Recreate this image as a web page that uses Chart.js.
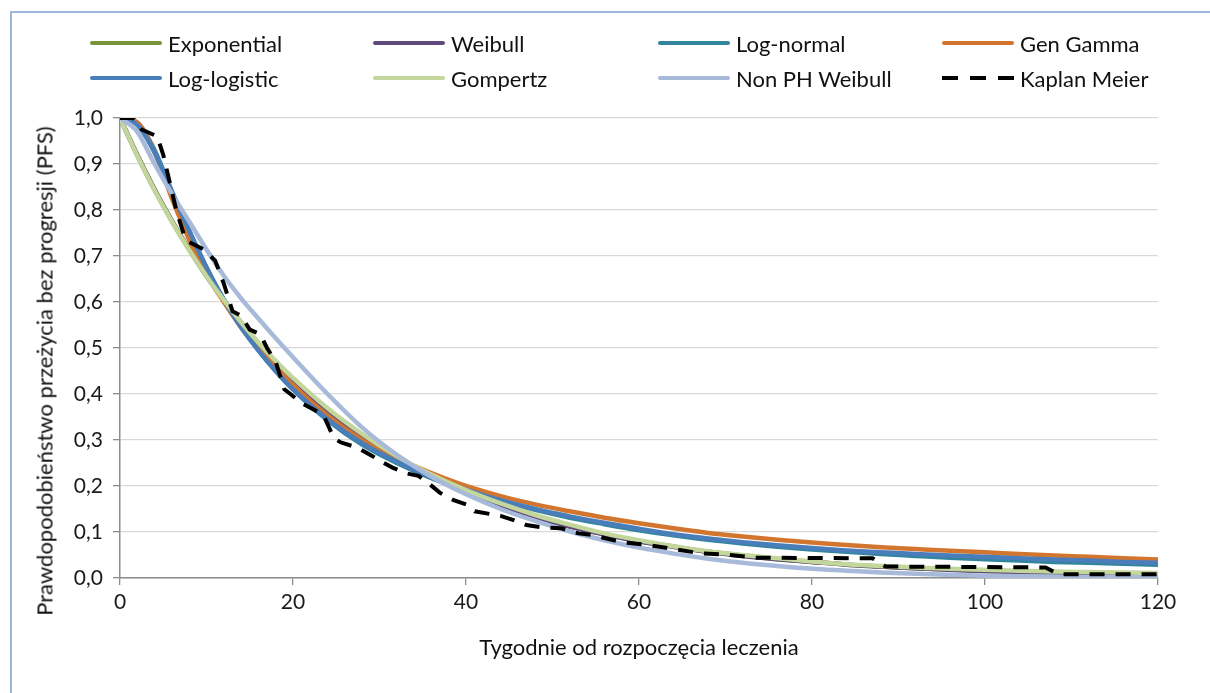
<!DOCTYPE html>
<html>
<head>
<meta charset="utf-8">
<script src="https://cdn.jsdelivr.net/npm/chart.js@4.4.0/dist/chart.umd.min.js"></script>
<style>
html,body{margin:0;padding:0;background:#fff;width:1210px;height:693px;overflow:hidden;font-family:Lato,"Open Sans",sans-serif;}
#frame{position:absolute;left:10px;top:11px;width:1300px;height:800px;border:2px solid #9CB8DE;box-sizing:border-box;}
#c{position:absolute;left:0;top:0;}
.item{position:absolute;display:flex;align-items:center;height:30px;font-size:22px;color:#111;white-space:nowrap;transform:translateY(-50%);}
.sw{width:72px;height:4.5px;border-radius:2.5px;margin-right:6px;flex:none;}
.sw.dash{height:4px;border-radius:0;background:repeating-linear-gradient(90deg,#000 0 16px,transparent 16px 28px);}
#ytitle{position:absolute;left:44px;top:371px;transform:translate(-50%,-50%) rotate(-90deg);white-space:nowrap;font-size:22px;color:#111;}
</style>
</head>
<body>
<div id="frame"></div>
<canvas id="c" width="1210" height="693"></canvas>
<div id="legend"></div>
<div id="ytitle">Prawdopodobieństwo przeżycia bez progresji (PFS)</div>
<script>
// ---- data ----
const weeks = [0,2,4,6,8,10,12,14,16,18,20,24,28,32,36,40,44,48,52,56,60,64,68,72,76,80,84,88,92,96,100,104,108,112,116,120];
const exponential = [1.000,0.920,0.845,0.777,0.715,0.657,0.604,0.555,0.510,0.470,0.432,0.365,0.308,0.261,0.220,0.186,0.157,0.133,0.112,0.095,0.080,0.068,0.057,0.049,0.041,0.035,0.029,0.025,0.021,0.018,0.015,0.013,0.011,0.009,0.008,0.007];
const weibull = [1.000,0.919,0.844,0.776,0.714,0.656,0.604,0.555,0.510,0.470,0.432,0.365,0.308,0.261,0.220,0.186,0.157,0.133,0.112,0.095,0.080,0.068,0.057,0.048,0.041,0.035,0.029,0.025,0.021,0.018,0.015,0.013,0.011,0.009,0.008,0.007];
const logNormal = [1.000,0.990,0.930,0.840,0.755,0.675,0.605,0.545,0.495,0.450,0.410,0.343,0.290,0.250,0.217,0.190,0.167,0.148,0.131,0.117,0.104,0.093,0.083,0.075,0.068,0.062,0.057,0.052,0.048,0.044,0.041,0.038,0.035,0.033,0.031,0.029];
const genGamma = [1.000,0.990,0.925,0.825,0.735,0.660,0.600,0.545,0.500,0.458,0.420,0.353,0.300,0.260,0.228,0.200,0.178,0.160,0.145,0.131,0.119,0.108,0.098,0.090,0.083,0.077,0.072,0.067,0.063,0.059,0.056,0.052,0.049,0.046,0.043,0.040];
const logLogistic = [1.000,0.985,0.925,0.840,0.755,0.675,0.605,0.545,0.495,0.450,0.410,0.345,0.293,0.253,0.220,0.192,0.169,0.150,0.134,0.120,0.107,0.095,0.086,0.078,0.071,0.065,0.060,0.056,0.052,0.049,0.046,0.043,0.040,0.038,0.035,0.033];
const gompertz = [1.000,0.918,0.843,0.775,0.713,0.656,0.604,0.556,0.512,0.472,0.435,0.369,0.313,0.265,0.225,0.191,0.162,0.137,0.116,0.097,0.082,0.069,0.058,0.050,0.043,0.036,0.030,0.026,0.023,0.020,0.018,0.016,0.014,0.013,0.012,0.011];
const nonPHWeibull = [1.000,0.970,0.900,0.835,0.775,0.714,0.657,0.608,0.564,0.521,0.480,0.400,0.327,0.268,0.220,0.182,0.150,0.124,0.101,0.082,0.066,0.053,0.042,0.033,0.026,0.020,0.016,0.012,0.009,0.007,0.005,0.004,0.003,0.002,0.002,0.001];
const kmWeeks = [0,1.5,2.5,4.3,5,6.5,7.5,8,9.6,11,12,12.5,13,14,15,16.2,17,18,19,19.7,21,22,23.5,24.7,25.5,27.5,29,30.5,31.5,33,34.5,35.6,37,38.5,40,41,44,45.5,47,48.5,51,53,54.5,56,58,61,64,67,70.5,73.5,87,88.5,107,108.5,120];
const kmSurv = [1.0,1.0,0.975,0.96,0.92,0.80,0.74,0.73,0.715,0.69,0.64,0.61,0.58,0.57,0.54,0.53,0.50,0.47,0.41,0.40,0.38,0.37,0.355,0.305,0.295,0.283,0.267,0.25,0.24,0.228,0.222,0.207,0.185,0.17,0.16,0.145,0.135,0.126,0.115,0.111,0.108,0.097,0.094,0.087,0.078,0.072,0.063,0.054,0.05,0.044,0.043,0.025,0.023,0.008,0.008];
const seriesNames = ['Exponential','Weibull','Log-normal','Gen Gamma','Log-logistic','Gompertz','Non PH Weibull','Kaplan Meier'];
const xTickLabels = ['0','20','40','60','80','100','120'];
const yTickLabels = ['0,0','0,1','0,2','0,3','0,4','0,5','0,6','0,7','0,8','0,9','1,0'];
const xTitle = 'Tygodnie od rozpoczęcia leczenia';

// ---- chart ----
const colors = ['#77933C','#604A7B','#31859C','#D2762F','#4A7EBB','#C3D69B','#A7BADA','#000000'];
const modelData = [exponential,weibull,logNormal,genGamma,logLogistic,gompertz,nonPHWeibull];
const datasets = modelData.map((arr,i)=>({
  label: seriesNames[i],
  data: weeks.map((w,j)=>({x:w,y:arr[j]})),
  borderColor: colors[i],
  borderWidth: 4.5,
  pointRadius: 0,
  cubicInterpolationMode: 'monotone',
  borderCapStyle: 'round',
  borderJoinStyle: 'round',
  fill: false,
  order: 7 - i
}));
datasets.push({
  label: seriesNames[7],
  data: kmWeeks.map((w,j)=>({x:w,y:kmSurv[j]})),
  borderColor: colors[7],
  borderWidth: 4,
  borderDash: [15,11],
  borderCapStyle: 'butt',
  pointRadius: 0,
  tension: 0,
  fill: false,
  order: 0
});

const tickFont = {family: 'Lato', size: 21};
new Chart(document.getElementById('c'), {
  type: 'line',
  data: {datasets},
  options: {
    responsive: false,
    animation: false,
    devicePixelRatio: 1,
    layout: {padding: {left: 20, top: 118, right: 52, bottom: 20}},
    plugins: {legend: {display: false}, tooltip: {enabled: false}, title: {display: false}},
    scales: {
      x: {
        type: 'linear', min: 0, max: 120,
        afterFit: s => { s.height = 95; },
        ticks: {stepSize: 20, color: '#1a1a1a', font: tickFont, padding: 5, maxRotation: 0,
                callback: (v, i) => xTickLabels[i]},
        grid: {drawOnChartArea: false, tickLength: 7, tickColor: '#8C8C8C', lineWidth: 1.3},
        border: {color: '#8C8C8C', width: 1.5},
        title: {display: true, text: xTitle, color: '#111', font: {family: 'Lato', size: 22}, padding: {top: 4, bottom: 12}}
      },
      y: {
        min: 0, max: 1,
        afterFit: s => { s.width = 100; },
        ticks: {stepSize: 0.1, color: '#1a1a1a', font: tickFont, padding: 10,
                callback: (v, i) => yTickLabels[i]},
        grid: {color: '#D9D9D9', lineWidth: 1.3, tickLength: 7, tickColor: '#8C8C8C'},
        border: {color: '#8C8C8C', width: 1.5}
      }
    }
  }
});

// ---- legend (two rows, four columns) ----
const colX = [90, 373, 658, 942];
const rowY = [43, 78];
const leg = document.getElementById('legend');
seriesNames.forEach((name, i) => {
  const it = document.createElement('div');
  it.className = 'item';
  it.style.left = colX[i % 4] + 'px';
  it.style.top = rowY[Math.floor(i / 4)] + 'px';
  const sw = document.createElement('div');
  sw.className = 'sw' + (i === 7 ? ' dash' : '');
  if (i !== 7) sw.style.background = colors[i];
  it.appendChild(sw);
  const t = document.createElement('span');
  t.textContent = name;
  it.appendChild(t);
  leg.appendChild(it);
});
</script>
</body>
</html>
